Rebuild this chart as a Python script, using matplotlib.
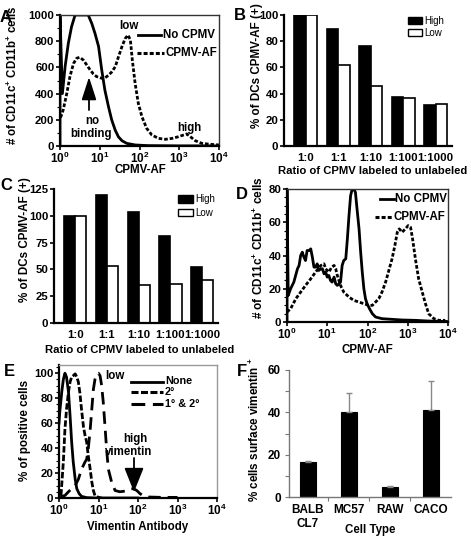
import numpy as np
import matplotlib
matplotlib.use("Agg")
import matplotlib.pyplot as plt
from matplotlib.lines import Line2D
from matplotlib.patches import Rectangle, FancyArrowPatch
from matplotlib.ticker import FixedLocator, LogLocator, NullFormatter, MultipleLocator

plt.rcParams['font.family'] = ['Liberation Sans', 'DejaVu Sans']
plt.rcParams['font.weight'] = 'bold'
plt.rcParams['axes.labelweight'] = 'bold'
plt.rcParams['font.size'] = 8
plt.rcParams['mathtext.fontset'] = 'custom'
plt.rcParams['mathtext.rm'] = 'Liberation Sans:bold'
plt.rcParams['mathtext.bf'] = 'Liberation Sans:bold'
plt.rcParams['mathtext.it'] = 'Liberation Sans:bold'

# ---------------- data ----------------
# Panel A: histogram (x as log10 of CPMV-AF)
a_none_logx = [0, 0, 0.06, 0.13, 0.21, 0.29, 0.38, 0.71, 0.80, 0.88, 0.97, 1.05, 1.13, 1.22, 1.30,
               1.39, 1.47, 1.56, 1.68, 1.89, 2.2, 2.6, 3.0, 3.5, 4.0]
a_none_y = [0, 1000, 400, 610, 785, 910, 1000, 1000, 935, 860, 760, 580, 425, 300, 200,
            120, 70, 40, 20, 8, 3, 2, 1, 1, 0]
a_af_logx = [0.0, 0.025, 0.08, 0.17, 0.25, 0.34, 0.42, 0.50, 0.59, 0.67, 0.76, 0.84, 0.92, 1.05,
             1.13, 1.22, 1.30, 1.39, 1.47, 1.56, 1.64, 1.71, 1.77, 1.82, 1.89, 1.97, 2.06, 2.18,
             2.31, 2.48, 2.65, 2.82, 2.98, 3.11, 3.19, 3.28, 3.40, 3.57, 3.82, 4.0]
a_af_y = [220, 225, 275, 400, 530, 630, 670, 677, 655, 620, 580, 550, 530, 517,
          520, 540, 565, 605, 680, 760, 820, 847, 810, 655, 478, 326, 224, 135,
          84, 58, 51, 58, 71, 84, 92, 71, 41, 20, 12, 8]

# Panels B, C: bars
ratio_labels = ['1:0', '1:1', '1:10', '1:100', '1:1000']
b_high = [100, 89, 76, 37.5, 31]
b_low = [100, 62, 45.5, 36.5, 32]
c_high = [100, 119, 104, 81, 52]
c_low = [100, 53, 35, 36, 40]

# Panel D: histogram
d_none_logx = [0, 0, 0.03, 0.09, 0.17, 0.26, 0.30, 0.34, 0.38, 0.42, 0.46, 0.50, 0.55, 0.59, 0.63,
               0.67, 0.71, 0.75, 0.79, 0.84, 0.88, 0.92, 0.96, 1.00, 1.04, 1.08, 1.12, 1.17, 1.21,
               1.25, 1.29, 1.33, 1.37, 1.41, 1.46, 1.50, 1.54, 1.58, 1.62, 1.66, 1.70, 1.74, 1.79,
               1.83, 1.87, 1.91, 1.95, 1.99, 2.05, 2.12, 2.20, 2.36, 2.61, 2.86, 3.19, 3.5, 3.98]
d_none_y = [0, 80, 16, 20, 24, 32, 34, 40, 42, 39, 37, 43, 43, 44, 39,
            33, 33, 35, 31, 32, 32, 29, 30, 27, 28, 25, 24, 27, 23,
            22, 23, 24, 34, 37, 38, 50, 64, 76, 80, 80, 78, 68, 56,
            42, 30, 20, 14, 11, 8, 5, 3, 2, 1.6, 1.2, 1.0, 0.6, 0.3]
d_af_logx = [0, 0.09, 0.22, 0.34, 0.46, 0.59, 0.71, 0.84, 0.92, 0.96, 1.04, 1.11, 1.17, 1.21, 1.25,
             1.33, 1.41, 1.54, 1.66, 1.79, 1.91, 2.03, 2.12, 2.20, 2.28, 2.36, 2.45, 2.53, 2.61,
             2.68, 2.74, 2.79, 2.86, 2.94, 3.01, 3.07, 3.12, 3.19, 3.27, 3.36, 3.44, 3.52, 3.65,
             3.77, 3.93]
d_af_y = [6, 8, 14, 18, 22, 26, 30, 34, 35, 32, 30, 33, 34, 32, 28,
          22, 18, 15, 13, 12, 11, 10, 10, 12, 14, 18, 24, 31, 38,
          46, 54, 56, 54, 56, 58, 57, 50, 38, 26, 18, 11, 5, 2,
          1, 1]

# Panel E: vimentin histograms
e_none_logx = [0, 0.02, 0.07, 0.11, 0.15, 0.19, 0.24, 0.28, 0.32, 0.36, 0.41, 0.45, 0.51, 0.57,
               0.70, 0.91, 1.5, 2.0]
e_none_y = [60, 69, 85, 95, 100, 97, 85, 66, 45, 29, 15, 7.5, 3.5, 1.3, 0.3, 0, 0, 0]
e_sec_logx = [0.05, 0.11, 0.15, 0.19, 0.24, 0.28, 0.32, 0.36, 0.41, 0.45, 0.49, 0.53, 0.57, 0.62,
              0.66, 0.70, 0.74, 0.79, 0.83, 0.87, 0.91, 1.0, 1.08]
e_sec_y = [2, 29, 55, 71, 85, 93, 97, 98, 99.5, 97, 93, 84, 71, 57, 50, 45, 34, 23, 13, 6, 2, 0.5, 0]
e_both_logx = [0.03, 0.15, 0.24, 0.32, 0.41, 0.49, 0.57, 0.66, 0.70, 0.74, 0.79, 0.83, 0.87, 0.91,
               0.95, 1.0, 1.04, 1.08, 1.12, 1.17, 1.21, 1.25, 1.33, 1.42, 1.54, 1.67, 1.80, 1.88,
               1.97, 2.05, 2.14, 2.26, 2.6, 3.0]
e_both_y = [1, 2, 5, 7.5, 10, 15, 23, 29, 31, 39, 55, 71, 87, 95,
            99.5, 100, 98, 90, 77, 55, 37, 23, 13, 6, 5, 5.5, 7, 7.5,
            6, 3.5, 1.6, 0.8, 0.5, 0.5]

# Panel F: bars with error
cell_types = ['BALB\nCL7', 'MC57', 'RAW', 'CACO']
f_vals = [16.3, 40, 4.6, 41.3]
f_err = [0.9, 9.3, 0.5, 13.7]

# ---------------- layout helpers ----------------
W, H = 471, 539
fig = plt.figure(figsize=(W / 100, H / 100), dpi=100)
TICK_FS = 8.2
LAB_FS = 8.3
NARROW = ['Liberation Sans Narrow', 'Liberation Sans']


def add_ax(l, t, r, b):
    return fig.add_axes([l / W, 1 - b / H, (r - l) / W, (b - t) / H])


def ftext(x, y, s, ha='center', va='center', **kw):
    fig.text(x / W, 1 - y / H, s, ha=ha, va=va, **kw)


def fline(x1, x2, y, **kw):
    fig.add_artist(Line2D([x1 / W, x2 / W], [1 - y / H, 1 - y / H], transform=fig.transFigure, **kw))


def frect(x, y, w, h, **kw):
    fig.add_artist(Rectangle((x / W, 1 - (y + h) / H), w / W, h / H, transform=fig.transFigure, **kw))


def farrow(x, y0, y1, hl, hw):
    fig.add_artist(FancyArrowPatch((x / W, 1 - y0 / H), (x / W, 1 - y1 / H), transform=fig.transFigure,
                                   arrowstyle='-|>,head_length=%g,head_width=%g' % (hl, hw),
                                   mutation_scale=10, color='k', lw=1.3, shrinkA=0, shrinkB=0))


def style_hist(ax, ymax, yticks, frame_color='#333333'):
    ax.set_xscale('log')
    ax.set_xlim(1, 1e4)
    ax.set_ylim(0, ymax)
    ax.set_yticks(yticks)
    ax.xaxis.set_major_locator(FixedLocator([1, 10, 100, 1000, 10000]))
    ax.xaxis.set_minor_locator(LogLocator(base=10, subs=np.arange(2, 10)))
    ax.xaxis.set_minor_formatter(NullFormatter())
    ax.set_xticklabels([r'$10^{%d}$' % i for i in range(5)])
    for s in ['left', 'bottom']:
        ax.spines[s].set_linewidth(1.6)
        ax.spines[s].set_color('k')
    for s in ['top', 'right']:
        ax.spines[s].set_linewidth(1.0)
        ax.spines[s].set_color(frame_color)
    ax.tick_params(axis='x', which='major', direction='out', length=3, width=1.2, pad=0.5, labelsize=TICK_FS + 0.3)
    ax.tick_params(axis='y', which='major', direction='out', length=3, width=1.2, pad=1.0, labelsize=TICK_FS)
    ax.tick_params(which='minor', direction='out', length=2, width=0.8)
    ax.tick_params(top=False, right=False, which='both')


def style_bar(ax, ymax, yticks):
    ax.set_ylim(0, ymax)
    ax.set_yticks(yticks)
    ax.set_xlim(-0.67, 4.5)
    ax.set_xticks(range(len(ratio_labels)))
    ax.set_xticklabels(ratio_labels)
    for s in ['top', 'right']:
        ax.spines[s].set_visible(False)
    for s in ['left', 'bottom']:
        ax.spines[s].set_linewidth(1.6)
    ax.tick_params(axis='y', direction='out', length=3, width=1.2, pad=1.0, labelsize=TICK_FS)
    ax.tick_params(axis='x', length=0, pad=5, labelsize=TICK_FS)


DOT = (0, (1.3, 0.7))

# ---------------- Panel A ----------------
axA = add_ax(60, 15, 219, 146)
axA.plot(np.power(10.0, a_none_logx), a_none_y, color='k', lw=2.0, solid_joinstyle='round')
axA.plot(np.power(10.0, a_af_logx), a_af_y, color='k', lw=2.0, linestyle=DOT)
style_hist(axA, 1000, [0, 200, 400, 600, 800, 1000])
axA.yaxis.set_minor_locator(MultipleLocator(100))
ftext(140, 170, 'CPMV-AF', fontsize=LAB_FS)
ftext(13, 75, r'# of CD11c$^{+}$ CD11b$^{+}$ cells', rotation=90, fontsize=8.3)
fline(138, 161, 35, color='k', lw=2.0)
ftext(163, 35, 'No CPMV', ha='left', fontsize=LAB_FS)
fline(137, 164, 52.5, color='k', lw=2.2, linestyle=DOT)
ftext(166, 52.5, 'CPMV-AF', ha='left', fontsize=LAB_FS)
ftext(129, 26, 'low', fontsize=LAB_FS)
ftext(189, 128, 'high', fontsize=LAB_FS)
ftext(92, 121, 'no', fontsize=LAB_FS)
ftext(91, 134, 'binding', fontsize=LAB_FS)
farrow(89, 110, 77, 1.4, 0.45)
ftext(6, 17, 'A', fontsize=12)

# ---------------- Panel B ----------------
axB = add_ax(284, 15, 452, 146)
xb = np.arange(len(ratio_labels))
bw = 0.35
axB.bar(xb - bw / 2, b_high, bw, color='k', edgecolor='k', lw=1.2)
axB.bar(xb + bw / 2, b_low, bw, color='w', edgecolor='k', lw=1.2)
style_bar(axB, 100, [0, 20, 40, 60, 80, 100])
ftext(373, 171, 'Ratio of CPMV labeled to unlabeled', fontsize=8.1)
ftext(257, 66, '% of DCs CPMV-AF (+)', rotation=90, fontsize=8.4)
frect(408, 17, 14, 7, facecolor='k', edgecolor='k', lw=1)
frect(408, 29, 14, 7, facecolor='w', edgecolor='k', lw=1)
ftext(424, 20.5, 'High', ha='left', fontsize=7, fontweight='normal', family=NARROW)
ftext(424, 32.5, 'Low', ha='left', fontsize=7, fontweight='normal', family=NARROW)
ftext(240, 15, 'B', fontsize=12)

# ---------------- Panel C ----------------
axC = add_ax(54, 189, 218, 323)
axC.bar(xb - bw / 2, c_high, bw, color='k', edgecolor='k', lw=1.2)
axC.bar(xb + bw / 2, c_low, bw, color='w', edgecolor='k', lw=1.2)
style_bar(axC, 125, [0, 25, 50, 75, 100, 125])
ftext(140, 350, 'Ratio of CPMV labeled to unlabeled', fontsize=8.1)
ftext(25, 240, '% of DCs CPMV-AF (+)', rotation=90, fontsize=8.4)
frect(178, 195, 15, 8, facecolor='k', edgecolor='k', lw=1)
frect(178, 209, 15, 7, facecolor='w', edgecolor='k', lw=1)
ftext(195, 199, 'High', ha='left', fontsize=7, fontweight='normal', family=NARROW)
ftext(195, 213, 'Low', ha='left', fontsize=7, fontweight='normal', family=NARROW)
ftext(6, 186, 'C', fontsize=12)

# ---------------- Panel D ----------------
axD = add_ax(287, 189, 448, 322)
axD.plot(np.power(10.0, d_none_logx), d_none_y, color='k', lw=2.0)
axD.plot(np.power(10.0, d_af_logx), d_af_y, color='k', lw=2.0, linestyle=DOT)
style_hist(axD, 80, [0, 20, 40, 60, 80])
axD.yaxis.set_minor_locator(MultipleLocator(5))
ftext(367, 350, 'CPMV-AF', fontsize=LAB_FS)
ftext(259, 248, r'# of CD11c$^{+}$ CD11b$^{+}$ cells', rotation=90, fontsize=8.5)
fline(380, 394, 199, color='k', lw=2.0)
ftext(395, 199, 'No CPMV', ha='left', fontsize=LAB_FS)
fline(375, 392, 217, color='k', lw=2.2, linestyle=DOT)
ftext(394, 217, 'CPMV-AF', ha='left', fontsize=LAB_FS)
ftext(242, 194, 'D', fontsize=12)

# ---------------- Panel E ----------------
axE = add_ax(59, 365, 217, 498)
axE.plot(np.power(10.0, e_none_logx), e_none_y, color='k', lw=2.0)
axE.plot(np.power(10.0, e_sec_logx), e_sec_y, color='k', lw=2.0, linestyle=(0, (2.3, 0.8)))
axE.plot(np.power(10.0, e_both_logx), e_both_y, color='k', lw=2.0, linestyle=(0, (4.5, 2.5)))
style_hist(axE, 106.6, [0, 20, 40, 60, 80, 100], frame_color='#999999')
axE.yaxis.set_minor_locator(MultipleLocator(5))
ftext(138, 527, 'Vimentin Antibody', fontsize=LAB_FS)
ftext(25, 430, '% of positive cells', rotation=90, fontsize=8.4)
fline(131, 163, 382, color='k', lw=2.0)
ftext(165, 381.5, 'None', ha='left', fontsize=7.8)
fline(131, 163, 392, color='k', lw=2.2, linestyle=(0, (2.3, 0.8)))
ftext(165, 392, '2°', ha='left', fontsize=7.8)
fline(131, 163, 404, color='k', lw=2.2, linestyle=(0, (4.5, 2.5)))
ftext(165, 404, '1° & 2°', ha='left', fontsize=7.8)
ftext(115, 376, 'low', fontsize=LAB_FS)
ftext(135, 439, 'high', fontsize=LAB_FS)
ftext(129, 452, 'vimentin', fontsize=LAB_FS)
farrow(134, 458, 492, 1.5, 0.6)
ftext(9, 371, 'E', fontsize=12)

# ---------------- Panel F ----------------
axF = add_ax(289, 370, 451, 497)
xf = np.arange(len(cell_types))
axF.bar(xf, f_vals, 0.39, color='k', edgecolor='k', lw=0.8)
axF.errorbar(xf, f_vals, yerr=[np.zeros(len(f_err)), f_err], fmt='none', ecolor='#888888',
             elinewidth=1.0, capsize=2, capthick=1.0)
axF.set_xlim(-0.46, 3.49)
axF.set_ylim(0, 60)
axF.set_yticks([0, 20, 40, 60])
axF.yaxis.set_minor_locator(MultipleLocator(10))
axF.set_xticks(xf)
axF.set_xticklabels(cell_types, linespacing=1.2)
axF.xaxis.set_minor_locator(FixedLocator([0.5, 1.5, 2.5]))
for s in ['top', 'right']:
    axF.spines[s].set_visible(False)
for s in ['left', 'bottom']:
    axF.spines[s].set_linewidth(1.0)
    axF.spines[s].set_color('#777777')
axF.tick_params(axis='y', which='both', direction='out', length=3, width=0.8, color='#777777',
                labelsize=TICK_FS + 0.3, pad=3)
axF.tick_params(axis='x', which='major', length=0, labelsize=TICK_FS + 0.3, pad=5)
axF.tick_params(axis='x', which='minor', direction='out', length=3, width=0.8, color='#777777')
ftext(370, 530, 'Cell Type', fontsize=LAB_FS)
ftext(255, 430, r'% cells surface vimentin $^{+}$', rotation=90, fontsize=8.4)
ftext(242, 371, 'F', fontsize=12)

fig.savefig('out.png', dpi=100)
